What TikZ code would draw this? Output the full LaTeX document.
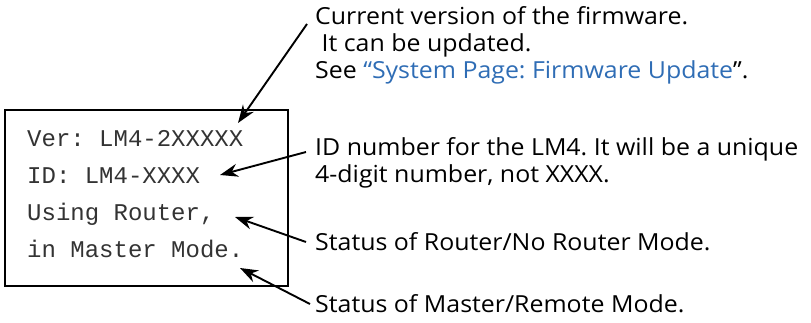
\documentclass[tikz,border=0pt]{standalone}
\usepackage{fontspec}
\setmainfont[FakeStretch=1.06]{Open Sans}
\newfontfamily\lcdfont{Liberation Mono}
\usetikzlibrary{arrows.meta}
\definecolor{linkblue}{HTML}{2F6DB5}
\definecolor{lcdgray}{HTML}{333333}
\tikzset{
  lcd/.style={anchor=base west, inner sep=0pt, font=\lcdfont\fontsize{24}{24}\selectfont, text=lcdgray},
  note/.style={anchor=base west, inner sep=0pt, font=\fontsize{23.5}{23.5}\selectfont},
  pointer/.style={line width=1.9pt, -{Stealth[length=18pt, width=13pt]}},
  frame/.style={draw, line width=1.5pt}
}
\frenchspacing
\begin{document}
\begin{tikzpicture}[x=1pt, y=-1pt]
\useasboundingbox (0,0) rectangle (811,323);
\draw[frame] (5,110) rectangle (288,286);
\node[lcd] (ver) at (27,147) {Ver: LM4-2XXXXX};
\node[lcd] (id) at (27,184) {ID: LM4-XXXX};
\node[lcd] (router) at (27,221) {Using Router,};
\node[lcd] (master) at (27,258) {in Master Mode.};

\node[note] (n1) at (315,25) {Current version of the firmware.};
\node[note] (n2) at (315,52) {\ It can be updated.};
\node[note] (n3) at (315,79) {See \textcolor{linkblue}{“System Page: Firmware Update}”.};
\node[note] (n4) at (315,156) {ID number for the LM4. It will be a unique};
\node[note] (n5) at (315,183) {4-digit number, not XXXX.};
\node[note] (n6) at (315,250) {Status of Router/No Router Mode.};
\node[note] (n7) at (315,312) {Status of Master/Remote Mode.};

\coordinate (s1) at (307,24);
\coordinate (t1) at (238,123);
\coordinate (s2) at (306,152);
\coordinate (t2) at (220,175);
\coordinate (s3) at (306,242);
\coordinate (t3) at (235,217);
\coordinate (s4) at (310,304);
\coordinate (t4) at (240,268);
\draw[pointer] (s1) -- (t1);
\draw[pointer] (s2) -- (t2);
\draw[pointer] (s3) -- (t3);
\draw[pointer] (s4) -- (t4);
\end{tikzpicture}
\end{document}
